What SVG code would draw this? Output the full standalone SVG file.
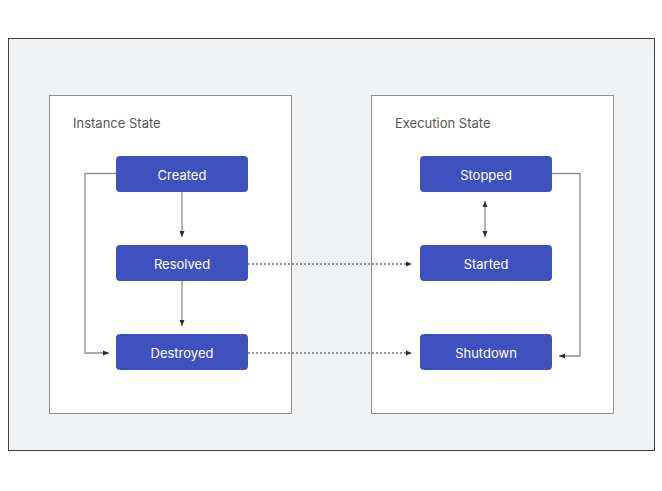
<svg xmlns="http://www.w3.org/2000/svg" width="662" height="491" viewBox="0 0 662 491">
<style>
.panel{fill:#ffffff;stroke:#8e9094;stroke-width:1}
.node rect{fill:#3f51bf}
.node text{fill:#ffffff;font-family:Inter,"Noto Sans",sans-serif;font-size:13px;text-anchor:middle}
.title{fill:#55585c;font-family:Inter,"Noto Sans",sans-serif;font-size:13px}
.solid{fill:none;stroke:#8e9094;stroke-width:1.3}
.dot{fill:none;stroke:#2b2f33;stroke-width:1;stroke-dasharray:2,2}
</style>
<defs>
<marker id="ah" viewBox="0 0 6 6" refX="6" refY="3" markerWidth="6" markerHeight="6" markerUnits="userSpaceOnUse" orient="auto-start-reverse">
<path d="M0,0.5 L6,3 L0,5.5 Z" fill="#2b2f33"/>
</marker>
</defs>
<rect x="8.5" y="38.5" width="646" height="412" fill="#f1f2f4" stroke="#3c3f43" stroke-width="1"/>
<g id="instance-state">
<rect class="panel" x="49.5" y="95.5" width="242" height="318"/>
<text class="title" x="73" y="128">Instance State</text>
</g>
<g id="execution-state">
<rect class="panel" x="371.5" y="95.5" width="242" height="318"/>
<text class="title" x="395" y="128">Execution State</text>
</g>
<g id="connectors">
<path class="solid" d="M182,192 V237" marker-end="url(#ah)"/>
<path class="solid" d="M182,281 V326" marker-end="url(#ah)"/>
<path class="solid" d="M116,173.5 H85 V353 H109" marker-end="url(#ah)"/>
<path class="dot" d="M248,264 H412" marker-end="url(#ah)"/>
<path class="dot" d="M248,353 H412" marker-end="url(#ah)"/>
<path class="solid" d="M485,201 V237" marker-start="url(#ah)" marker-end="url(#ah)"/>
<path class="solid" d="M552,173.5 H580 V356 H559" marker-end="url(#ah)"/>
</g>
<g id="created" class="node"><rect x="116" y="156" width="132" height="36" rx="4"/><text x="182" y="179.5">Created</text></g>
<g id="resolved" class="node"><rect x="116" y="245" width="132" height="36" rx="4"/><text x="182" y="268.5">Resolved</text></g>
<g id="destroyed" class="node"><rect x="116" y="334" width="132" height="36" rx="4"/><text x="182" y="357.5">Destroyed</text></g>
<g id="stopped" class="node"><rect x="420" y="156" width="132" height="36" rx="4"/><text x="486" y="179.5">Stopped</text></g>
<g id="started" class="node"><rect x="420" y="245" width="132" height="36" rx="4"/><text x="486" y="268.5">Started</text></g>
<g id="shutdown" class="node"><rect x="420" y="334" width="132" height="36" rx="4"/><text x="486" y="357.5">Shutdown</text></g>
</svg>
